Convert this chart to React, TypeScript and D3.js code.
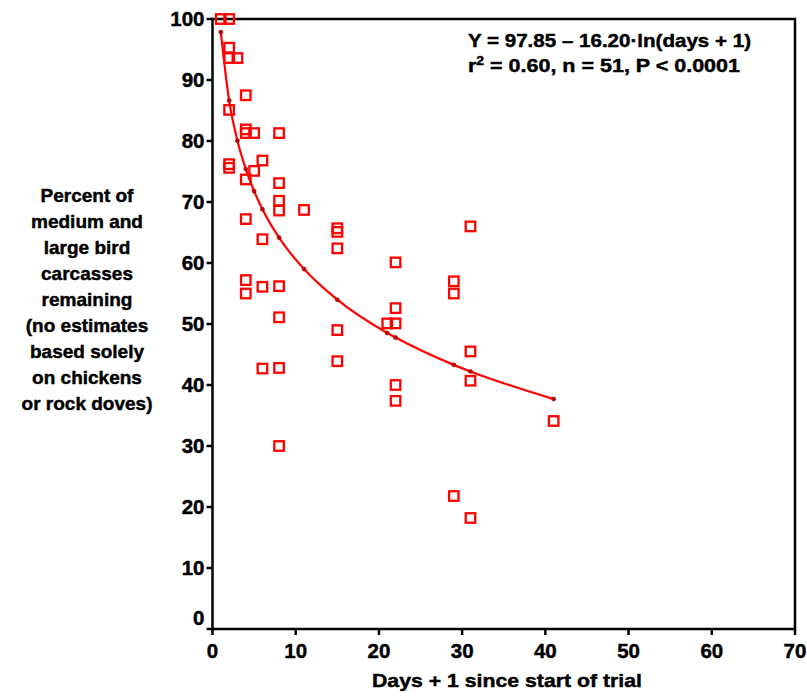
import React from "react";
import * as d3 from "d3";

// Observed points (days + 1, percent remaining)
const obsX = [
  1,
  2, 2, 2, 2, 2, 2,
  3,
  4, 4, 4, 4, 4, 4, 4,
  5, 5,
  6, 6, 6, 6,
  8, 8, 8, 8, 8, 8, 8, 8,
  11,
  15, 15, 15, 15, 15,
  21,
  22, 22, 22, 22, 22,
  29, 29, 29,
  31, 31, 31, 31,
  41,
];
const obsY = [
  100,
  100, 95.3, 93.6, 85.1, 76.2, 75.6,
  93.6,
  87.5, 81.9, 81.3, 73.7, 67.2, 57.2, 55.0,
  81.3, 75.1,
  76.8, 63.9, 56.1, 42.7,
  81.3, 73.1, 70.2, 68.6, 56.2, 51.1, 42.8, 30.0,
  68.7,
  65.7, 65.1, 62.4, 49.0, 43.9,
  50.1,
  60.1, 52.6, 50.1, 40.0, 37.4,
  57.0, 55.0, 21.8,
  66.0, 45.5, 40.7, 18.2,
  34.1,
];

// Fitted curve values at the distinct x positions
const fitX = [1, 2, 3, 4, 5, 6, 8, 11, 15, 21, 22, 29, 31, 41];
const fitY = [97.85, 86.62, 80.05, 75.39, 71.78, 68.82, 64.16, 59.0, 53.98, 48.53, 47.78, 43.3, 42.22, 37.69];

const xTicks = [0, 10, 20, 30, 40, 50, 60, 70];
const yTicks = [0, 10, 20, 30, 40, 50, 60, 70, 80, 90, 100];

const yTitleLines = [
  "Percent of",
  "medium and",
  "large bird",
  "carcasses",
  "remaining",
  "(no estimates",
  "based solely",
  "on chickens",
  "or rock doves)",
];

const xTitle = "Days + 1 since start of trial";
const eqLine1 = "Y = 97.85 \u2013 16.20\u00b7ln(days + 1)";

export default function App() {
  const W = 807;
  const H = 698;
  const left = 212.5;
  const right = 795;
  const top = 19;
  const bottom = 629;

  const x = d3.scaleLinear().domain([0, 70]).range([left, right]);
  const y = d3.scaleLinear().domain([0, 100]).range([bottom, top]);

  const fitPts = fitX.map((d, i) => [x(d), y(fitY[i])] as [number, number]);
  const line = d3.line().curve(d3.curveMonotoneX)(fitPts) || "";

  const font = "'Liberation Sans', Arial, Helvetica, sans-serif";
  const red = "#FF0000";
  const sq = 9.5;
  const ts = { stroke: "#000", strokeWidth: 0.45 };

  return (
    <svg
      width={W}
      height={H}
      viewBox={`0 0 ${W} ${H}`}
      style={{ position: "absolute", left: 0, top: 0, background: "#fff" }}
      fontFamily={font}
      fontWeight="bold"
    >
      <rect x={0} y={0} width={W} height={H} fill="#fff" />
      {/* frame */}
      <rect x={left} y={top} width={right - left} height={bottom - top} fill="none" stroke="#000" strokeWidth={2.5} />

      {/* y ticks */}
      {yTicks.map((t) => (
        <g key={"y" + t}>
          <line x1={left - 6} x2={left} y1={y(t)} y2={y(t)} stroke="#000" strokeWidth={2.5} />
          <text
            x={left - 8}
            y={t === 0 ? y(t) - 11 + 7 : y(t) + 7}
            textAnchor="end"
            fontSize={20.5}
            fill="#000"
            {...ts}
          >
            {t}
          </text>
        </g>
      ))}

      {/* x ticks */}
      {xTicks.map((t) => (
        <g key={"x" + t}>
          <line x1={x(t)} x2={x(t)} y1={bottom} y2={bottom + 6} stroke="#000" strokeWidth={2.5} />
          <text x={x(t)} y={658} textAnchor="middle" fontSize={20.5} fill="#000" {...ts}>
            {t}
          </text>
        </g>
      ))}

      {/* fit line */}
      <path d={line} fill="none" stroke={red} strokeWidth={2.2} />
      {fitPts.map((p, i) => (
        <circle key={"f" + i} cx={p[0]} cy={p[1]} r={2} fill="#d00000" stroke="#800000" strokeWidth={0.6} />
      ))}

      {/* observed squares */}
      {obsX.map((d, i) => (
        <rect
          key={"o" + i}
          x={x(d) - sq / 2}
          y={y(obsY[i]) - sq / 2}
          width={sq}
          height={sq}
          fill="none"
          stroke={red}
          strokeWidth={2.3}
        />
      ))}

      {/* equation */}
      <text x={468} y={47} fontSize={18.5} fill="#000" textLength={283} lengthAdjust="spacingAndGlyphs" {...ts}>
        {eqLine1}
      </text>
      <text x={468} y={72} fontSize={18.5} fill="#000" textLength={272} lengthAdjust="spacingAndGlyphs" {...ts}>
        r<tspan fontSize={12} dy={-7}>2</tspan>
        <tspan dy={7}> = 0.60, n = 51, P &lt; 0.0001</tspan>
      </text>

      {/* x title */}
      <text x={372} y={687} fontSize={19} fill="#000" textLength={270} lengthAdjust="spacingAndGlyphs" {...ts}>
        {xTitle}
      </text>

      {/* y title */}
      {yTitleLines.map((s, i) => (
        <text key={"t" + i} x={87} y={195 + i * 26.1 + 6.5} textAnchor="middle" fontSize={19} fill="#000" {...ts}>
          {s}
        </text>
      ))}
    </svg>
  );
}
